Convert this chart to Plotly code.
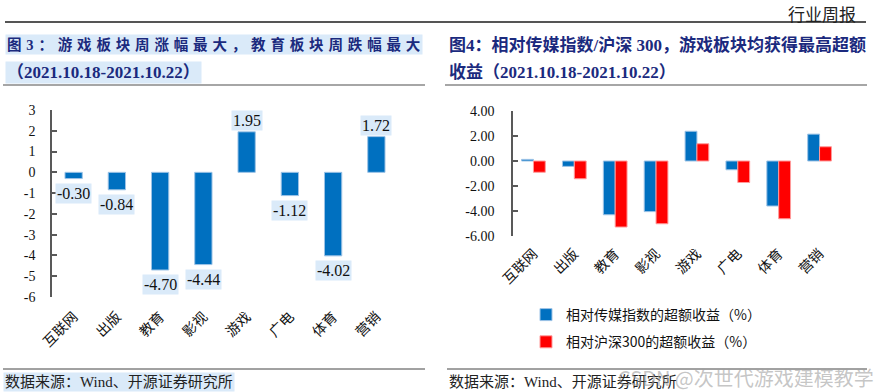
import plotly.graph_objects as go

W, H = 891, 392

categories = ["互联网", "出版", "教育", "影视", "游戏", "广电", "体育", "营销"]
weekly_change = [-0.30, -0.84, -4.70, -4.44, 1.95, -1.12, -4.02, 1.72]
excess_vs_media = [0.13, -0.43, -4.30, -4.05, 2.38, -0.70, -3.60, 2.15]
excess_vs_hs300 = [-0.90, -1.42, -5.28, -5.02, 1.38, -1.72, -4.62, 1.14]
left_yticks = [3, 2, 1, 0, -1, -2, -3, -4, -5, -6]
right_yticks = [4.0, 2.0, 0.0, -2.0, -4.0, -6.0]
legend_names = ["相对传媒指数的超额收益（%）", "相对沪深300的超额收益（%）"]

BLUE = "#0070C0"
RED = "#FF0000"
NAVY = "#1B2A7E"
HL = "#DAEAF9"
SERIF = "Liberation Serif, Noto Sans CJK SC"
CJK = "Noto Sans CJK SC, Liberation Serif"


def px(x):
    return x / W


def py(y):
    return 1 - y / H


# plot area geometry (pixels)
L_x0, L_x1, L_top, L_bot = 52, 398, 110, 297
R_x0, R_x1, R_top, R_bot = 513, 840, 111, 236
L_rng = [-6, 3]
R_rng = [-6, 4]

L_dom_y = [py(L_bot), py(L_top)]
R_dom_y = [py(R_bot), py(R_top)]
L_zero = L_dom_y[0] + (0 - L_rng[0]) / (L_rng[1] - L_rng[0]) * (L_dom_y[1] - L_dom_y[0])
R_zero = R_dom_y[0] + (0 - R_rng[0]) / (R_rng[1] - R_rng[0]) * (R_dom_y[1] - R_dom_y[0])

fig = go.Figure()

fig.add_trace(go.Bar(
    x=categories, y=weekly_change, xaxis="x", yaxis="y",
    width=0.4, marker=dict(color=BLUE, line=dict(color="#9DC3E6", width=1)),
    showlegend=False,
))
fig.add_trace(go.Bar(
    x=categories, y=excess_vs_media, xaxis="x3", yaxis="y3",
    width=0.29, offset=-0.29, name=legend_names[0], legendgroup="a",
    marker=dict(color=BLUE, line=dict(color="#9DC3E6", width=1)),
))
fig.add_trace(go.Bar(
    x=categories, y=excess_vs_hs300, xaxis="x3", yaxis="y3",
    width=0.29, offset=0.0, name=legend_names[1], legendgroup="b",
    marker=dict(color=RED, line=dict(color="#FF9A9A", width=1)),
))

n = len(categories)
bounds = [i + 0.5 for i in range(n)]
axis_col = "#595959"

fig.update_layout(
    template="none",
    width=W, height=H, margin=dict(l=0, r=0, t=0, b=0, autoexpand=False),
    paper_bgcolor="white", plot_bgcolor="rgba(0,0,0,0)",
    barmode="overlay",
    xaxis=dict(domain=[px(L_x0), px(L_x1)], anchor="y", type="category",
               categoryorder="array", categoryarray=categories, automargin=False,
               range=[-0.5, n - 0.5], showline=False, ticks="", showgrid=False,
               tickangle=-45, tickfont=dict(family=CJK, size=14, color="#111"),
               ticklabelstandoff=8),
    xaxis2=dict(overlaying="x", anchor="free", position=L_zero, type="linear",
                range=[-0.5, n - 0.5], tickvals=bounds, ticks="inside", ticklen=5,
                tickcolor=axis_col, tickwidth=1.5, showticklabels=False,
                showline=True, linecolor=axis_col, linewidth=1.5, automargin=False,
                showgrid=False, zeroline=False),
    yaxis=dict(domain=L_dom_y, anchor="x", range=L_rng, tickvals=left_yticks,
               ticktext=[str(v) for v in left_yticks], automargin=False,
               ticks="inside", ticklen=5, tickcolor=axis_col, tickwidth=1.5,
               showline=True, linecolor=axis_col, linewidth=1.5,
               showgrid=False, zeroline=False, ticklabelstandoff=12,
               tickfont=dict(family=SERIF, size=14, color="#111")),
    xaxis3=dict(domain=[px(R_x0), px(R_x1)], anchor="y3", type="category",
                categoryorder="array", categoryarray=categories, automargin=False,
                range=[-0.5, n - 0.5], showline=False, ticks="", showgrid=False,
                tickangle=-45, tickfont=dict(family=CJK, size=14, color="#111"),
                ticklabelstandoff=6),
    xaxis4=dict(overlaying="x3", anchor="free", position=R_zero, type="linear",
                range=[-0.5, n - 0.5], tickvals=bounds, ticks="inside", ticklen=5,
                tickcolor=axis_col, tickwidth=1.5, showticklabels=False,
                showline=True, linecolor=axis_col, linewidth=1.5, automargin=False,
                showgrid=False, zeroline=False),
    yaxis3=dict(domain=R_dom_y, anchor="x3", range=R_rng, tickvals=right_yticks,
                ticktext=[f"{v:.2f}" for v in right_yticks], automargin=False,
                ticks="inside", ticklen=5, tickcolor=axis_col, tickwidth=1.5,
                showline=True, linecolor=axis_col, linewidth=1.5,
                showgrid=False, zeroline=False, ticklabelstandoff=14,
                tickfont=dict(family=SERIF, size=14, color="#111")),
    legend=dict(x=px(526), y=py(299), xanchor="left", yanchor="top",
                font=dict(family=CJK, size=14, color="#111"),
                tracegroupgap=6, bgcolor="rgba(0,0,0,0)", itemwidth=30),
)

annotations = []
# data labels left chart
for c, v in zip(categories, weekly_change):
    annotations.append(dict(
        x=c, y=v, xref="x", yref="y", text=f"{v:.2f}", showarrow=False,
        xanchor="center",
        yanchor="top" if v < 0 else "bottom", yshift=-4 if v < 0 else 1,
        font=dict(family=SERIF, size=16, color="#111"), bgcolor=HL, borderpad=1,
    ))

sp = "\u2004"
title_l1 = sp.join(list("图3：游戏板块周涨幅最大，教育板块周跌幅最大"))


def note(x, y, text, font, xanchor="left", bg=None):
    d = dict(x=px(x), y=py(y), xref="paper", yref="paper", xanchor=xanchor,
             yanchor="middle", text=text, showarrow=False, font=font)
    if bg:
        d["bgcolor"] = bg
    return d


annotations += [
    note(858, 13, "行业周报", dict(family=CJK, size=17, color="#222"), xanchor="right"),
    note(5, 45, "<b>" + title_l1 + "</b>", dict(family=SERIF, size=14.5, color=NAVY), bg=HL),
    note(5, 72, "<b>（2021.10.18-2021.10.22）</b>", dict(family=SERIF, size=17, color=NAVY), bg=HL),
    note(447, 45, "<b>图4：相对传媒指数/沪深 300，游戏板块均获得最高超额</b>",
         dict(family=SERIF, size=17, color=NAVY)),
    note(447, 72, "<b>收益（2021.10.18-2021.10.22）</b>", dict(family=SERIF, size=17, color=NAVY)),
    note(3, 382, "数据来源：Wind、开源证券研究所", dict(family=SERIF, size=15, color="#222"), bg=HL),
    note(447, 382, "数据来源：Wind、开源证券研究所", dict(family=SERIF, size=15, color="#222")),
    note(876, 377, "CSDN @次世代游戏建模教学",
         dict(family=CJK, size=20, color="rgba(160,160,160,0.6)"), xanchor="right"),
]
fig.update_layout(annotations=annotations)

shapes = [
    dict(type="line", xref="paper", yref="paper", x0=px(5), x1=px(866),
         y0=py(22), y1=py(22), line=dict(color="#555", width=2)),
    dict(type="line", xref="paper", yref="paper", x0=px(3), x1=px(425),
         y0=py(85), y1=py(85), line=dict(color="#888", width=1.5)),
    dict(type="line", xref="paper", yref="paper", x0=px(445), x1=px(867),
         y0=py(85), y1=py(85), line=dict(color="#888", width=1.5)),
    dict(type="line", xref="paper", yref="paper", x0=px(3), x1=px(425),
         y0=py(369), y1=py(369), line=dict(color="#444", width=1)),
    dict(type="line", xref="paper", yref="paper", x0=px(447), x1=px(867),
         y0=py(369), y1=py(369), line=dict(color="#444", width=1)),
]
fig.update_layout(shapes=shapes)

fig.write_html(
    "out.html",
    config={"displayModeBar": False},
    post_script="document.body.style.margin='0';document.body.style.overflow='hidden';",
)
